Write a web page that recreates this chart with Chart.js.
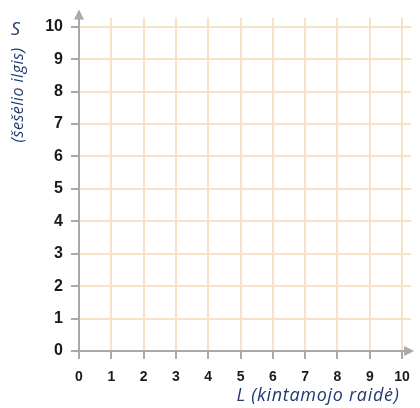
<!DOCTYPE html>
<html lang="lt">
<head>
    <meta charset="UTF-8">
    <title>S ir L</title>
    <script src="https://cdn.jsdelivr.net/npm/chart.js"></script>
    <style>
        html, body { margin: 0; padding: 0; background: #fff; }
        #wrap { width: 420px; height: 408px; }
    </style>
</head>
<body>
    <div id="wrap"><canvas id="grid"></canvas></div>

    <script>
        // axis values and labels
        var xTicks = [0, 1, 2, 3, 4, 5, 6, 7, 8, 9, 10];
        var yTicks = [0, 1, 2, 3, 4, 5, 6, 7, 8, 9, 10];
        var xTitle = "L (kintamojo raidė)";
        var yLetter = "S";
        var yTitle = "(šešėlio ilgis)";
        // no points plotted yet - empty worksheet grid
        var points = [];

        var gridColor = "#f5e3c4";
        var axisColor = "#a9a9a9";
        var titleColor = "#1f3a6e";

        // arrows on the axes and the axis titles
        var decor = {
            id: "decor",
            afterDraw: function (chart) {
                var ctx = chart.ctx;
                var a = chart.chartArea;
                ctx.save();
                ctx.fillStyle = axisColor;
                ctx.strokeStyle = axisColor;
                ctx.lineWidth = 2;
                // up arrow
                ctx.beginPath();
                ctx.moveTo(a.left, a.top);
                ctx.lineTo(a.left, a.top - 4);
                ctx.stroke();
                ctx.beginPath();
                ctx.moveTo(a.left, a.top - 8);
                ctx.lineTo(a.left - 5, a.top + 2);
                ctx.lineTo(a.left + 5, a.top + 2);
                ctx.closePath();
                ctx.fill();
                // right arrow
                ctx.beginPath();
                ctx.moveTo(a.right + 3, a.bottom);
                ctx.lineTo(a.right - 7, a.bottom - 5);
                ctx.lineTo(a.right - 7, a.bottom + 5);
                ctx.closePath();
                ctx.fill();

                ctx.fillStyle = titleColor;
                ctx.textAlign = "center";
                ctx.textBaseline = "middle";
                ctx.font = "italic 18px 'Open Sans'";
                ctx.letterSpacing = "0.7px";
                ctx.fillText(xTitle, 318, 396);
                ctx.fillText(yLetter, 16, 30);
                ctx.font = "italic 16px 'Open Sans'";
                ctx.letterSpacing = "0.5px";
                ctx.translate(18, 95);
                ctx.rotate(-Math.PI / 2);
                ctx.fillText(yTitle, 0, 0);
                ctx.restore();
            }
        };

        new Chart(document.getElementById("grid"), {
            type: "scatter",
            data: {
                datasets: [{ data: points, backgroundColor: titleColor }]
            },
            options: {
                responsive: true,
                maintainAspectRatio: false,
                animation: false,
                layout: { padding: { top: 16, right: 4, left: 0, bottom: 0 } },
                plugins: { legend: { display: false }, tooltip: { enabled: false } },
                scales: {
                    x: {
                        type: "linear",
                        min: 0,
                        max: 10.28,
                        afterBuildTicks: function (s) { s.ticks = xTicks.map(v => ({ value: v })); },
                        afterFit: function (s) { s.height = 57; },
                        grid: { color: gridColor, lineWidth: 2, tickColor: axisColor, tickWidth: 2, tickLength: 8 },
                        border: { color: axisColor, width: 2 },
                        ticks: {
                            color: "#1a1a1a",
                            font: { family: "Liberation Sans", size: 14, weight: "bold" },
                            padding: 10,
                            maxRotation: 0,
                            callback: (v) => String(v)
                        }
                    },
                    y: {
                        type: "linear",
                        min: 0,
                        max: 10.28,
                        afterBuildTicks: function (s) { s.ticks = yTicks.map(v => ({ value: v })); },
                        afterFit: function (s) { s.width = 79; },
                        grid: { color: gridColor, lineWidth: 2, tickColor: axisColor, tickWidth: 2, tickLength: 8 },
                        border: { color: axisColor, width: 2 },
                        ticks: {
                            color: "#1a1a1a",
                            font: { family: "Liberation Sans", size: 16, weight: "bold" },
                            padding: 8,
                            callback: (v) => String(v)
                        }
                    }
                }
            },
            plugins: [decor]
        });
    </script>
</body>
</html>
